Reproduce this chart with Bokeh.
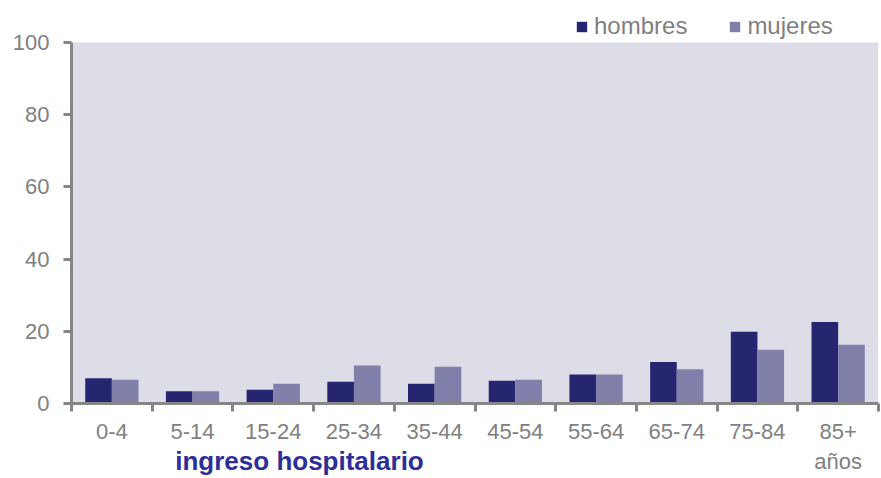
import numpy as np
from bokeh.plotting import figure
from bokeh.models import Range1d, FixedTicker, Legend, LegendItem, LinearAxis, BoxAnnotation
from bokeh.embed import file_html
from bokeh.resources import INLINE

categories = ["0-4", "5-14", "15-24", "25-34", "35-44", "45-54", "55-64", "65-74", "75-84", "85+\naños"]
hombres = [7.0, 3.4, 3.8, 6.0, 5.5, 6.3, 8.0, 11.5, 19.9, 22.6]
mujeres = [6.6, 3.4, 5.5, 10.5, 10.2, 6.6, 8.0, 9.5, 14.9, 16.3]
y_ticks = [0, 20, 40, 60, 80, 100]
series_names = ["hombres", "mujeres"]
title_text = "ingreso hospitalario"

C_H = "#262670"
C_M = "#8080AA"
AXIS = "#868686"
TXT = "#808080"
BG = "#DDDDE8"
FONT = "Liberation Sans"

n = len(categories)
idx = np.arange(n)
bw = 0.33
y_max = max(y_ticks)

p = figure(width=881, height=478, output_backend="svg", toolbar_location=None,
           x_range=Range1d(-0.5, n - 0.5), y_range=Range1d(0, 111.6),
           min_border_left=71, min_border_right=3, min_border_top=0, min_border_bottom=75)
p.background_fill_color = "white"
p.border_fill_color = "white"
p.outline_line_color = None
p.grid.visible = False

p.add_layout(BoxAnnotation(bottom=0, top=y_max, fill_color=BG, fill_alpha=1,
                           line_color=None, level="underlay"))

r1 = p.vbar(x=idx - bw / 2, top=hombres, width=bw, fill_color=C_H, line_color=None)
r2 = p.vbar(x=idx + bw / 2, top=mujeres, width=bw, fill_color=C_M, line_color=None)

xa = p.xaxis[0]
xa.ticker = FixedTicker(ticks=list(idx), minor_ticks=[i - 0.5 for i in range(n + 1)])
xa.major_label_overrides = {int(i): c for i, c in zip(idx, categories)}
xa.major_tick_line_color = None
xa.major_tick_out = 8
xa.major_tick_in = 0
xa.minor_tick_out = 8
xa.minor_tick_in = 0
xa.minor_tick_line_color = AXIS
xa.minor_tick_line_width = 3
xa.axis_line_color = AXIS
xa.axis_line_width = 3
xa.major_label_standoff = 7
xa.major_label_text_font = FONT
xa.major_label_text_font_size = "22px"
xa.major_label_text_color = TXT

ya = p.yaxis[0]
ya.ticker = FixedTicker(ticks=y_ticks)
ya.bounds = (0, y_max)
ya.major_tick_out = 8
ya.major_tick_in = 0
ya.major_tick_line_color = AXIS
ya.major_tick_line_width = 3
ya.minor_tick_line_color = None
ya.axis_line_color = AXIS
ya.axis_line_width = 3
ya.major_label_standoff = 14
ya.major_label_text_font = FONT
ya.major_label_text_font_size = "22px"
ya.major_label_text_color = TXT

# invisible helper axis (own pixel-like range) whose single tick label is the blue caption
p.extra_x_ranges = {"cap": Range1d(-228, 579)}
cap = LinearAxis(x_range_name="cap", ticker=FixedTicker(ticks=[0]),
                 major_label_overrides={0: title_text},
                 axis_line_color=None, major_tick_line_color=None, minor_tick_line_color=None,
                 major_tick_out=0, major_tick_in=0, minor_tick_out=0, minor_tick_in=0,
                 major_label_standoff=-31,
                 major_label_text_font=FONT, major_label_text_font_size="26px",
                 major_label_text_font_style="bold", major_label_text_color="#2E2E99")
p.add_layout(cap, "below")

legend = Legend(items=[LegendItem(label=series_names[0], renderers=[r1]),
                       LegendItem(label=series_names[1], renderers=[r2])],
                location=(504, 363), orientation="horizontal",
                glyph_width=13, glyph_height=13, label_standoff=6, spacing=41,
                padding=0, margin=0, border_line_color=None, background_fill_alpha=0,
                label_text_font=FONT, label_text_font_size="24px", label_text_color=TXT)
p.add_layout(legend, "center")

open("out.html", "w").write(file_html(p, INLINE))
